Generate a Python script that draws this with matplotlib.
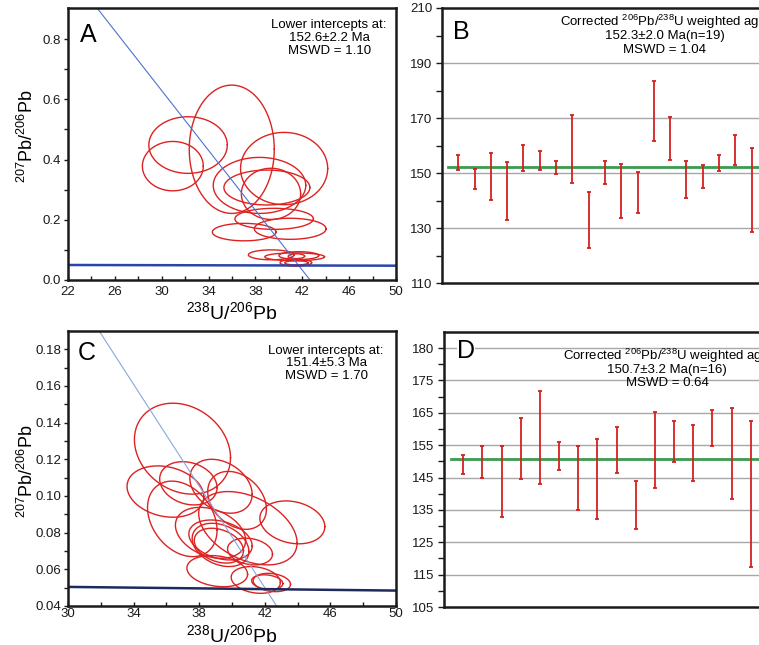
import numpy as np
import matplotlib.pyplot as plt
import matplotlib as mpl
from matplotlib.ticker import FixedLocator, FormatStrFormatter

mpl.rcParams.update({
    'font.family': ['Liberation Sans', 'DejaVu Sans'],
    'mathtext.default': 'regular',
    'axes.linewidth': 1.8,
    'axes.edgecolor': '#1a1a1a',
    'xtick.color': '#1a1a1a',
    'ytick.color': '#1a1a1a',
    'xtick.labelsize': 9.5,
    'ytick.labelsize': 9.5,
})

ell_color = '#dd2222'
bar_color = '#d42020'
mean_color = '#3c9a50'
grid_color = '#a8a8a8'

# ---- panel A : Tera-Wasserburg ellipses (centre, half extents) ----
a_u238 = [32.25, 30.95, 35.98, 40.45, 38.35, 38.98, 39.33, 39.60, 37.04, 40.97,
          39.35, 41.35, 41.70, 41.45, 41.50, 41.50]
a_pb207 = [0.448, 0.378, 0.434, 0.370, 0.314, 0.307, 0.286, 0.203, 0.159, 0.170,
           0.0835, 0.077, 0.081, 0.0575, 0.057, 0.079]
a_err_x = [3.35, 2.60, 3.63, 3.72, 3.95, 3.67, 2.53, 3.35, 2.72, 3.06,
           1.95, 2.55, 1.70, 1.35, 1.00, 0.70]
a_err_y = [0.094, 0.082, 0.213, 0.120, 0.093, 0.058, 0.085, 0.035, 0.029, 0.035,
           0.0165, 0.013, 0.013, 0.0115, 0.007, 0.008]
a_discordia_x = [24.5, 42.66]
a_discordia_y = [0.902, 0.0]
a_concordia_x = [22, 50]
a_concordia_y = [0.0498, 0.0475]
a_xticks = [22, 26, 30, 34, 38, 42, 46, 50]
a_yticks = [0.0, 0.2, 0.4, 0.6, 0.8]

# ---- panel C ----
c_u238 = [36.98, 35.94, 37.34, 39.33, 40.31, 36.97, 40.97, 43.68, 38.69, 39.30,
          39.30, 39.20, 41.10, 39.10, 41.45, 42.43, 42.15]
c_pb207 = [0.1258, 0.1024, 0.1069, 0.1053, 0.0976, 0.0875, 0.0824, 0.0856, 0.0799,
           0.0760, 0.0733, 0.0729, 0.0697, 0.0590, 0.0542, 0.0528, 0.0530]
c_err_x = [2.93, 2.34, 1.75, 1.90, 1.79, 2.12, 3.00, 1.98, 2.14, 1.93,
           1.73, 1.50, 1.37, 1.85, 1.50, 1.14, 0.95]
c_err_y = [0.0248, 0.0140, 0.0118, 0.0147, 0.0158, 0.0206, 0.0200, 0.0117, 0.0139,
           0.0109, 0.0118, 0.0095, 0.0073, 0.0085, 0.0073, 0.0050, 0.0040]
c_rho = [-0.2, -0.2, -0.2, -0.3, -0.3, -0.3, -0.4, -0.2, -0.3, -0.3,
         -0.3, -0.3, -0.2, -0.2, -0.2, -0.2, -0.2]
c_discordia_x = [31.9, 42.72]
c_discordia_y = [0.19, 0.04]
c_concordia_x = [30, 50]
c_concordia_y = [0.0504, 0.0484]
c_xticks = [30, 34, 38, 42, 46, 50]
c_yticks = [0.04, 0.06, 0.08, 0.10, 0.12, 0.14, 0.16, 0.18]

# ---- panel B : 206Pb/238U ages (upper / lower error limits) ----
b_hi = [156.4, 151.3, 157.3, 153.9, 160.2, 157.9, 154.2, 171.0, 143.0, 154.4,
        153.2, 150.5, 183.5, 170.5, 154.2, 152.9, 156.4, 163.9, 159.1]
b_lo = [151.0, 144.1, 140.3, 132.8, 150.6, 151.2, 149.6, 146.4, 122.7, 145.9,
        133.8, 135.5, 161.6, 154.6, 141.0, 144.4, 150.7, 152.9, 128.4]
b_mean = 152.3
b_yticks = [110, 130, 150, 170, 190, 210]

# ---- panel D ----
d_hi = [152.1, 154.6, 154.8, 163.4, 171.7, 155.9, 154.8, 157.0, 160.7, 143.9,
        165.2, 162.4, 161.3, 165.8, 166.6, 162.4]
d_lo = [146.0, 144.8, 132.8, 144.7, 143.0, 147.4, 134.9, 132.3, 146.4, 129.2,
        141.7, 149.8, 144.0, 154.8, 138.5, 117.4]
d_mean = 150.7
# the top gridline is labelled "180" in the original figure
d_yticks = [105, 115, 125, 135, 145, 155, 165, 175, 185]
d_ylabels = ['105', '115', '125', '135', '145', '155', '165', '175', '180']


def ellipse(ax, cx, cy, sx, sy, rho=0.0):
    t = np.linspace(0, 2 * np.pi, 240)
    x = cx + sx * np.cos(t)
    y = cy + sy * (rho * np.cos(t) - np.sqrt(1 - rho ** 2) * np.sin(t))
    ax.plot(x, y, color=ell_color, lw=1.0)


def tw_panel(ax, xs, ys, ex, ey, rhos, disc, conc, disc_color, conc_color, xpad):
    for i in range(len(xs)):
        ellipse(ax, xs[i], ys[i], ex[i], ey[i], rhos[i])
    ax.plot(disc[0], disc[1], color=disc_color, lw=0.8)
    ax.plot(conc[0], conc[1], color=conc_color, lw=1.8)
    ax.tick_params(axis='x', which='both', direction='in', length=3, width=1, pad=xpad)
    ax.tick_params(axis='y', which='both', direction='out', length=3, width=1, pad=2)
    ax.set_xlabel(r'$^{238}$U/$^{206}$Pb', fontsize=14)
    ax.set_ylabel(r'$^{207}$Pb/$^{206}$Pb', fontsize=13)


def age_panel(ax, hi, lo, mean, n_slots):
    hi = np.array(hi)
    lo = np.array(lo)
    mid = (hi + lo) / 2
    x = np.arange(1, len(hi) + 1)
    ax.set_xlim(0, n_slots)
    ax.axhline(mean, xmin=0.35 / n_slots, xmax=1 - 0.35 / n_slots,
               color=mean_color, lw=2, zorder=2)
    ax.errorbar(x, mid, yerr=[mid - lo, hi - mid], fmt='none', ecolor=bar_color,
                elinewidth=1.3, capsize=1.6, capthick=1.3, zorder=3)
    ax.set_xticks([])
    ax.tick_params(which='both', direction='out', length=4, width=1, pad=3)


fig = plt.figure(figsize=(7.59, 6.45), dpi=100)

# A
axA = fig.add_axes([0.0896, 0.5659, 0.4321, 0.4217])
tw_panel(axA, a_u238, a_pb207, a_err_x, a_err_y, [0] * len(a_u238),
         (a_discordia_x, a_discordia_y), (a_concordia_x, a_concordia_y),
         '#4d73cc', '#2a45a8', 4)
axA.set_xlim(22, 50)
axA.set_ylim(0, 0.903)
axA.xaxis.set_major_locator(FixedLocator(a_xticks))
axA.xaxis.set_minor_locator(FixedLocator(np.arange(22, 50, 2)))
axA.yaxis.set_major_locator(FixedLocator(a_yticks))
axA.yaxis.set_minor_locator(FixedLocator(np.arange(0, 0.9, 0.1)))
axA.yaxis.set_major_formatter(FormatStrFormatter('%.1f'))
axA.yaxis.set_label_coords(-0.095, 0.53)
axA.xaxis.set_label_coords(0.5, -0.078)
axA.text(0.035, 0.945, 'A', transform=axA.transAxes, fontsize=18, va='top')
for i, s in enumerate(['Lower intercepts at:', '152.6\u00b12.2 Ma', 'MSWD = 1.10']):
    axA.text(0.796, 1 - (17 + 13 * i) / 272, s, transform=axA.transAxes,
             ha='center', va='center', fontsize=9.5)

# C
axC = fig.add_axes([0.0896, 0.0605, 0.4321, 0.4264])
tw_panel(axC, c_u238, c_pb207, c_err_x, c_err_y, c_rho,
         (c_discordia_x, c_discordia_y), (c_concordia_x, c_concordia_y),
         '#8aa6dc', '#1c2a5e', 1.5)
axC.set_xlim(30, 50)
axC.set_ylim(0.04, 0.19)
axC.xaxis.set_major_locator(FixedLocator(c_xticks))
axC.xaxis.set_minor_locator(FixedLocator(np.arange(30, 50, 2)))
axC.yaxis.set_major_locator(FixedLocator(c_yticks))
axC.yaxis.set_minor_locator(FixedLocator(np.arange(0.04, 0.19, 0.01)))
axC.yaxis.set_major_formatter(FormatStrFormatter('%.2f'))
axC.yaxis.set_label_coords(-0.095, 0.49)
axC.xaxis.set_label_coords(0.5, -0.066)
axC.text(0.03, 0.965, 'C', transform=axC.transAxes, fontsize=18, va='top')
for i, s in enumerate(['Lower intercepts at:', '151.4\u00b15.3 Ma', 'MSWD = 1.70']):
    axC.text(0.787, 1 - (20 + 12.5 * i) / 275, s, transform=axC.transAxes,
             ha='center', va='center', fontsize=9.5)

# B
axB = fig.add_axes([0.5823, 0.5612, 0.4295, 0.4264])
age_panel(axB, b_hi, b_lo, b_mean, 20)
axB.set_ylim(110, 210)
axB.yaxis.set_major_locator(FixedLocator(b_yticks))
axB.yaxis.set_minor_locator(FixedLocator(np.arange(120, 210, 20)))
for g in b_yticks[1:-1]:
    axB.axhline(g, color=grid_color, lw=1, zorder=1)
axB.text(0.035, 0.955, 'B', transform=axB.transAxes, fontsize=18, va='top')
for i, s in enumerate([r'Corrected $^{206}$Pb/$^{238}$U weighted age:',
                       '152.3\u00b12.0 Ma(n=19)', 'MSWD = 1.04']):
    axB.text(0.684, 1 - (14 + 14 * i) / 275, s, transform=axB.transAxes,
             ha='center', va='center', fontsize=9.5)

# D
axD = fig.add_axes([0.5850, 0.0589, 0.4295, 0.4265])
age_panel(axD, d_hi, d_lo, d_mean, 17)
axD.set_ylim(105, 190)
axD.yaxis.set_major_locator(FixedLocator(d_yticks))
axD.set_yticklabels(d_ylabels)
axD.yaxis.set_minor_locator(FixedLocator(np.arange(110, 190, 10)))
for g in d_yticks[1:]:
    axD.axhline(g, color=grid_color, lw=1, zorder=1)
axD.text(0.04, 0.975, 'D', transform=axD.transAxes, fontsize=18, va='top',
         bbox=dict(facecolor='white', edgecolor='none', pad=0))
for i, s in enumerate([r'Corrected $^{206}$Pb/$^{238}$U weighted age',
                       '150.7\u00b13.2 Ma(n=16)', 'MSWD = 0.64']):
    axD.text(0.684, 1 - (24 + 13.5 * i) / 274, s, transform=axD.transAxes,
             ha='center', va='center', fontsize=9.5)

plt.savefig('out.png', dpi=100)
